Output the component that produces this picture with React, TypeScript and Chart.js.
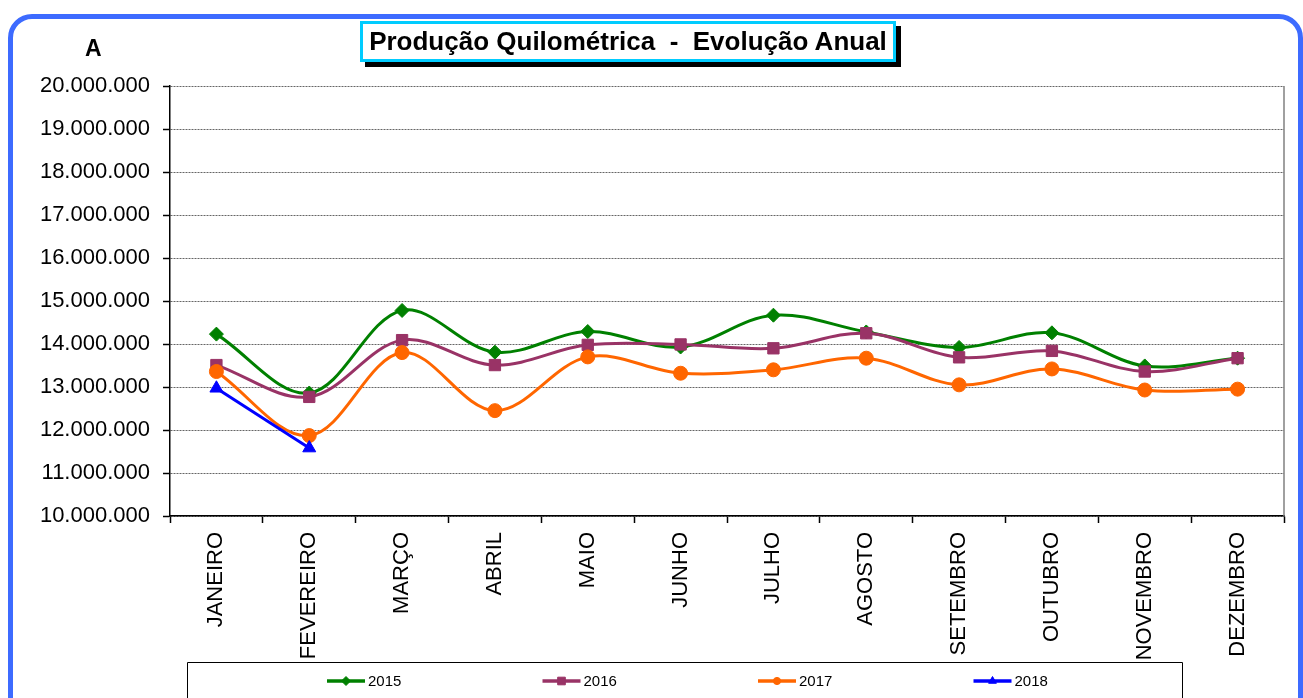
import React, { useEffect, useRef } from "react";
import { Chart, registerables } from "chart.js";

Chart.register(...registerables);

const months = [
  "JANEIRO", "FEVEREIRO", "MARÇO", "ABRIL", "MAIO", "JUNHO",
  "JULHO", "AGOSTO", "SETEMBRO", "OUTUBRO", "NOVEMBRO", "DEZEMBRO",
];

const values2015 = [14230000, 12860000, 14780000, 13810000, 14290000, 13930000, 14670000, 14280000, 13920000, 14260000, 13490000, 13670000];
const values2016 = [13510000, 12770000, 14090000, 13510000, 13980000, 13990000, 13900000, 14250000, 13690000, 13840000, 13360000, 13670000];
const values2017 = [13360000, 11870000, 13800000, 12450000, 13700000, 13320000, 13400000, 13670000, 13050000, 13420000, 12930000, 12950000];
const values2018 = [12970000, 11580000];

const seriesNames = ["2015", "2016", "2017", "2018"];
const yMin = 10000000;
const yMax = 20000000;
const yStep = 1000000;

const titleText = "Produção Quilométrica  -  Evolução Anual";
const cornerLabel = "A";

const FONT = "'Liberation Sans', Arial, sans-serif";

function fmt(v: number): string {
  return String(Math.round(v)).replace(/\B(?=(\d{3})+(?!\d))/g, ".");
}

function drawMarker(ctx: CanvasRenderingContext2D, style: string, x: number, y: number, r: number) {
  ctx.beginPath();
  if (style === "rectRot") {
    ctx.moveTo(x - r, y);
    ctx.lineTo(x, y - r);
    ctx.lineTo(x + r, y);
    ctx.lineTo(x, y + r);
    ctx.closePath();
  } else if (style === "rect") {
    const s = r * 0.85;
    ctx.rect(x - s, y - s, 2 * s, 2 * s);
  } else if (style === "triangle") {
    ctx.moveTo(x, y - r);
    ctx.lineTo(x + r * 0.87, y + r * 0.5);
    ctx.lineTo(x - r * 0.87, y + r * 0.5);
    ctx.closePath();
  } else {
    ctx.arc(x, y, r * 0.8, 0, Math.PI * 2);
  }
  ctx.fill();
  ctx.stroke();
}

const legendPlugin = {
  id: "customLegend",
  afterDraw(chart: any) {
    const ctx = chart.ctx;
    const area = chart.chartArea;
    ctx.save();
    // right border of plot area
    ctx.strokeStyle = "#808080";
    ctx.lineWidth = 1.5;
    ctx.beginPath();
    ctx.moveTo(area.right, area.top);
    ctx.lineTo(area.right, area.bottom);
    ctx.stroke();

    // legend box
    const boxL = 187.5, boxT = 662.5, boxR = 1182.5, boxB = 720;
    ctx.strokeStyle = "#000";
    ctx.lineWidth = 1;
    ctx.beginPath();
    ctx.moveTo(boxL, boxB);
    ctx.lineTo(boxL, boxT);
    ctx.lineTo(boxR, boxT);
    ctx.lineTo(boxR, boxB);
    ctx.stroke();

    const startX = 327;
    const spacing = 215.5;
    const cy = 681;
    chart.data.datasets.forEach((ds: any, i: number) => {
      const x0 = startX + i * spacing;
      ctx.strokeStyle = ds.borderColor;
      ctx.lineWidth = 3.5;
      ctx.beginPath();
      ctx.moveTo(x0, cy);
      ctx.lineTo(x0 + 38, cy);
      ctx.stroke();
      ctx.fillStyle = ds.pointBackgroundColor;
      ctx.strokeStyle = ds.pointBorderColor;
      ctx.lineWidth = 1;
      drawMarker(ctx, ds.pointStyle, x0 + 19, cy, 4.5);
      ctx.fillStyle = "#000";
      ctx.font = `15px ${FONT}`;
      ctx.textAlign = "left";
      ctx.textBaseline = "middle";
      ctx.fillText(ds.label, x0 + 41, cy + 1);
    });
    ctx.restore();
  },
};

export default function App() {
  const canvasRef = useRef<HTMLCanvasElement | null>(null);

  useEffect(() => {
    if (!canvasRef.current) return;
    const mk = (label: string, data: number[], color: string, style: string, radius: number, order: number, tension: number) => ({
      label,
      data,
      borderColor: color,
      backgroundColor: color,
      pointBackgroundColor: color,
      pointBorderColor: color,
      pointBorderWidth: 1,
      pointStyle: style,
      pointRadius: radius,
      borderWidth: 3,
      tension,
      order,
      fill: false,
    });
    const chart = new Chart(canvasRef.current, {
      type: "line",
      data: {
        labels: months,
        datasets: [
          mk(seriesNames[0], values2015, "#008000", "rectRot", 7, 4, 0.35),
          mk(seriesNames[1], values2016, "#993366", "rect", 8, 3, 0.35),
          mk(seriesNames[2], values2017, "#FF6600", "circle", 7, 2, 0.35),
          mk(seriesNames[3], values2018, "#0000FF", "triangle", 7.5, 1, 0),
        ] as any,
      },
      options: {
        responsive: false,
        maintainAspectRatio: false,
        animation: false,
        layout: { padding: { left: 0, right: 19, top: 86, bottom: 0 } },
        plugins: {
          legend: { display: false },
          title: { display: false },
          tooltip: { enabled: false },
        },
        scales: {
          x: {
            offset: true,
            grid: {
              offset: true,
              drawOnChartArea: false,
              tickLength: 7,
              tickColor: "#000",
              tickWidth: 1.5,
            },
            border: { color: "#000", width: 1.5 },
            ticks: {
              autoSkip: false,
              minRotation: 90,
              maxRotation: 90,
              padding: 9,
              color: "#000",
              font: { family: FONT, size: 22 },
            },
            afterFit(scale: any) {
              scale.height = 182;
            },
          },
          y: {
            min: yMin,
            max: yMax,
            grid: {
              color: "#666",
              lineWidth: 1,
              tickLength: 7,
              tickColor: "#000",
              tickWidth: 1.5,
            },
            border: { color: "#000", width: 1.5, dash: [2, 1] },
            ticks: {
              stepSize: yStep,
              padding: 13,
              color: "#000",
              font: { family: FONT, size: 22 },
              callback: (v: any) => fmt(Number(v)),
            },
            afterFit(scale: any) {
              scale.width = 170;
            },
          },
        },
      } as any,
      plugins: [legendPlugin],
    });
    return () => chart.destroy();
  }, []);

  return (
    <div style={{ position: "fixed", left: 0, top: 0, width: 1303, height: 698, overflow: "hidden", background: "#fff" }}>
      <div
        style={{
          position: "absolute",
          left: 8,
          top: 14,
          width: 1295,
          height: 760,
          boxSizing: "border-box",
          border: "5px solid #3D6BFF",
          borderRadius: 24,
        }}
      />
      <canvas ref={canvasRef} width={1303} height={698} style={{ position: "absolute", left: 0, top: 0, display: "block" }} />
      <div
        style={{
          position: "absolute",
          left: 85,
          top: 35,
          fontFamily: FONT,
          fontWeight: "bold",
          fontSize: 23,
          lineHeight: "27px",
          color: "#000",
        }}
      >
        {cornerLabel}
      </div>
      <div
        style={{
          position: "absolute",
          left: 360,
          top: 21,
          width: 536,
          height: 41,
          boxSizing: "border-box",
          border: "3px solid #00CCFF",
          background: "#fff",
          boxShadow: "5px 5px 0 #000",
          fontFamily: FONT,
          fontWeight: "bold",
          fontSize: 26,
          lineHeight: "35px",
          textAlign: "center",
          whiteSpace: "pre",
          color: "#000",
        }}
      >
        {titleText}
      </div>
    </div>
  );
}
